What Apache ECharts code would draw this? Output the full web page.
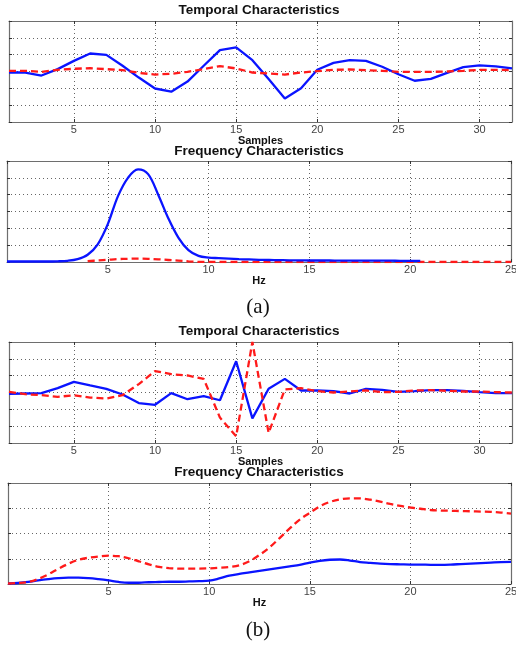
<!DOCTYPE html>
<html>
<head>
<meta charset="utf-8">
<script src="https://cdn.jsdelivr.net/npm/echarts@6/dist/echarts.min.js"></script>
<style>
html,body{margin:0;padding:0;background:#fff;}
#c{width:516px;height:648px;}
</style>
</head>
<body>
<div id="c"></div>
<script>
// ---------- DATA ----------
const samples = [1,2,3,4,5,6,7,8,9,10,11,12,13,14,15,16,17,18,19,20,21,22,23,24,25,26,27,28,29,30,31,32];
const sampleTickLabels = ['5','10','15','20','25','30'];
const hzTickLabels = ['5','10','15','20','25'];

// (a) temporal
const tempA_blue = [-0.06,-0.06,-0.24,0.14,0.63,1.07,0.99,0.34,-0.36,-1.01,-1.2,-0.6,0.34,1.27,1.43,0.67,-0.45,-1.6,-1.0,0.1,0.51,0.67,0.63,0.28,-0.16,-0.55,-0.44,-0.08,0.26,0.36,0.3,0.18];
const tempA_red  = [0.04,0.04,-0.02,0.1,0.16,0.2,0.14,0.08,-0.08,-0.18,-0.14,-0.02,0.14,0.32,0.18,-0.06,-0.12,-0.18,-0.06,0.02,0.1,0.12,0.08,0.04,-0.02,-0.02,-0.02,0.0,0.04,0.1,0.1,0.08];

// (b) temporal
const tempB_blue = [-0.08,-0.06,-0.04,0.26,0.63,0.42,0.22,-0.12,-0.63,-0.73,-0.04,-0.4,-0.22,-0.46,1.86,-1.54,0.22,0.81,0.12,0.12,0.08,-0.06,0.22,0.16,0.04,0.08,0.14,0.14,0.1,0.02,-0.04,-0.04];
const tempB_red  = [0.04,-0.1,-0.16,-0.26,-0.16,-0.3,-0.36,-0.16,0.5,1.27,1.09,1.01,0.81,-1.49,-2.6,3.0,-2.4,0.18,0.26,0.08,0.0,0.06,0.12,0.02,0.04,0.12,0.14,0.1,0.06,0.06,0.02,0.0];

// frequency axis (Hz)
const hz = [0,0.5,1,1.5,2,2.5,3,3.5,4,4.5,5,5.5,6,6.5,7,7.5,8,8.5,9,9.5,10,10.5,11,11.5,12,12.5,13,13.5,14,14.5,15,15.5,16,16.5,17,17.5,18,18.5,19,19.5,20,20.5,21,21.5,22,22.5,23,23.5,24,24.5,25];

// (a) frequency
const freqA_blue = [0.03,0.03,0.03,0.03,0.03,0.04,0.07,0.17,0.43,1.05,2.25,3.9,5.0,5.5,5.22,4.0,2.6,1.45,0.7,0.36,0.26,0.23,0.2,0.17,0.15,0.13,0.12,0.11,0.1,0.1,0.09,0.09,0.09,0.08,0.08,0.08,0.08,0.08,0.08,0.07,0.07,0.07,null,null,null,null,null,null,null,null,null];
const freqA_red  = [null,null,null,null,null,null,null,null,0.05,0.09,0.13,0.17,0.19,0.2,0.19,0.16,0.12,0.08,0.04,0.01,0,0,0,0,0,0,0,0,0,0,0,0,0,0,0,0,0,0,0,0,0,0,0,0,0,0,0,0,0,0,0];

// (b) frequency
const freqB_blue = [0.02,0.04,0.08,0.14,0.19,0.23,0.25,0.25,0.23,0.19,0.14,0.08,0.05,0.05,0.07,0.08,0.09,0.09,0.1,0.11,0.13,0.22,0.33,0.4,0.46,0.52,0.58,0.64,0.7,0.76,0.85,0.92,0.96,0.97,0.93,0.87,0.84,0.81,0.79,0.78,0.77,0.77,0.76,0.76,0.77,0.79,0.81,0.83,0.85,0.87,0.88];
const freqB_red  = [0.02,0.04,0.08,0.2,0.38,0.6,0.8,0.96,1.04,1.09,1.12,1.1,1.02,0.9,0.78,0.68,0.63,0.61,0.61,0.61,0.62,0.64,0.67,0.74,0.9,1.15,1.45,1.82,2.2,2.55,2.82,3.08,3.25,3.35,3.39,3.39,3.34,3.26,3.17,3.09,3.03,2.98,2.93,2.91,2.9,2.89,2.88,2.87,2.86,2.83,2.79];

// ---------- CHART ----------
const BLUE = '#0a14ff', RED = '#ff1a1a';
const BORDER = '#6e6e6e', GRIDC = '#666';
const grids = [
  {left: 9, top: 21, width: 503, height: 101},
  {left: 7, top: 161, width: 504, height: 101},
  {left: 9, top: 342, width: 503, height: 101},
  {left: 8, top: 483, width: 503, height: 101}
].map(g => Object.assign(g, {outerBoundsMode: 'none', containLabel: false}));
const titleFont = {fontFamily: 'Liberation Sans, Arial, sans-serif', fontWeight: 'bold', fontSize: 13.5, color: '#111'};
const titles = [
  {text: 'Temporal Characteristics', left: 259, top: 3, textAlign: 'center'},
  {text: 'Frequency Characteristics', left: 259, top: 144, textAlign: 'center'},
  {text: 'Temporal Characteristics', left: 259, top: 324, textAlign: 'center'},
  {text: 'Frequency Characteristics', left: 259, top: 465, textAlign: 'center'}
].map(t => Object.assign(t, {padding: 0, textStyle: titleFont}));
const capFont = {fontFamily: 'Liberation Serif, Times New Roman, serif', fontWeight: 'normal', fontSize: 21, color: '#111'};
titles.push({text: '(a)', left: 258, top: 297, textAlign: 'center', padding: 0, textStyle: capFont});
titles.push({text: '(b)', left: 258, top: 620, textAlign: 'center', padding: 0, textStyle: capFont});

const sampleShow = (i) => sampleTickLabels.indexOf(String(samples[i])) >= 0;
const labelStyle = {color: '#444', fontSize: 11, fontFamily: 'Liberation Sans, Arial, sans-serif', margin: 2};
const nameStyle = {color: '#111', fontSize: 11, fontWeight: 'bold', fontFamily: 'Liberation Sans, Arial, sans-serif'};
const dotted = {show: true, lineStyle: {color: GRIDC, type: [1, 3], width: 1}};
const border = {show: true, onZero: false, lineStyle: {color: BORDER, width: 1.2}};

function xAxesTemporal(gi) {
  const base = {type: 'category', gridIndex: gi, data: samples.map(String), boundaryGap: false};
  return [
    Object.assign({}, base, {
      position: 'bottom', axisLine: border,
      axisTick: {show: true, inside: true, length: 3, interval: sampleShow, lineStyle: {color: '#333'}},
      axisLabel: Object.assign({interval: sampleShow}, labelStyle),
      splitLine: Object.assign({interval: sampleShow}, dotted),
      name: 'Samples', nameLocation: 'middle', nameGap: 10, nameTextStyle: nameStyle
    }),
    Object.assign({}, base, {
      position: 'top', axisLine: border,
      axisTick: {show: true, inside: true, length: 3, interval: sampleShow, lineStyle: {color: '#333'}},
      axisLabel: {show: false}, splitLine: {show: false}
    })
  ];
}
function xAxesFreq(gi) {
  const base = {type: 'value', gridIndex: gi, min: 0, max: 25, interval: 5};
  return [
    Object.assign({}, base, {
      position: 'bottom', axisLine: border,
      axisTick: {show: true, inside: true, length: 3, lineStyle: {color: '#333'}},
      axisLabel: Object.assign({showMinLabel: false,
        formatter: v => hzTickLabels.indexOf(String(v)) >= 0 ? String(v) : ''}, labelStyle),
      splitLine: dotted,
      name: 'Hz', nameLocation: 'middle', nameGap: 12, nameTextStyle: nameStyle
    }),
    Object.assign({}, base, {
      position: 'top', axisLine: border,
      axisTick: {show: true, inside: true, length: 3, lineStyle: {color: '#333'}},
      axisLabel: {show: false}, splitLine: {show: false}
    })
  ];
}
function yAxes(gi, min, max) {
  const base = {type: 'value', gridIndex: gi, min: min, max: max, interval: 1};
  return [
    Object.assign({}, base, {
      position: 'left', axisLine: border,
      axisTick: {show: true, inside: true, length: 3, lineStyle: {color: '#333'}},
      axisLabel: {show: false}, splitLine: dotted
    }),
    Object.assign({}, base, {
      position: 'right', axisLine: border,
      axisTick: {show: true, inside: true, length: 3, lineStyle: {color: '#333'}},
      axisLabel: {show: false}, splitLine: {show: false}
    })
  ];
}

const xAxis = [].concat(xAxesTemporal(0), xAxesFreq(1), xAxesTemporal(2), xAxesFreq(3));
const yAxis = [].concat(yAxes(0, -3, 3), yAxes(1, 0, 6), yAxes(2, -3, 3), yAxes(3, 0, 4));

function line(xi, yi, data, color, dashed, z, smooth) {
  return {
    type: 'line', xAxisIndex: xi, yAxisIndex: yi, data: data, z: z,
    showSymbol: false, symbol: 'none', smooth: smooth ? 0.35 : false, animation: false,
    connectNulls: false,
    lineStyle: {color: color, width: 2.3, type: dashed ? [7, 4] : 'solid'}
  };
}
const pairs = (vals) => hz.map((h, i) => [h, vals[i]]);

const series = [
  line(0, 0, tempA_blue, BLUE, false, 2, false),
  line(0, 0, tempA_red, RED, true, 3, false),
  line(2, 2, pairs(freqA_red), RED, true, 2, true),
  line(2, 2, pairs(freqA_blue), BLUE, false, 3, true),
  line(4, 4, tempB_blue, BLUE, false, 2, false),
  line(4, 4, tempB_red, RED, true, 3, false),
  line(6, 6, pairs(freqB_blue), BLUE, false, 2, true),
  line(6, 6, pairs(freqB_red), RED, true, 3, true)
];

const chart = echarts.init(document.getElementById('c'), null, {renderer: 'canvas'});
chart.setOption({
  animation: false,
  backgroundColor: '#fff',
  title: titles,
  grid: grids,
  xAxis: xAxis,
  yAxis: yAxis,
  series: series
});
</script>
</body>
</html>
